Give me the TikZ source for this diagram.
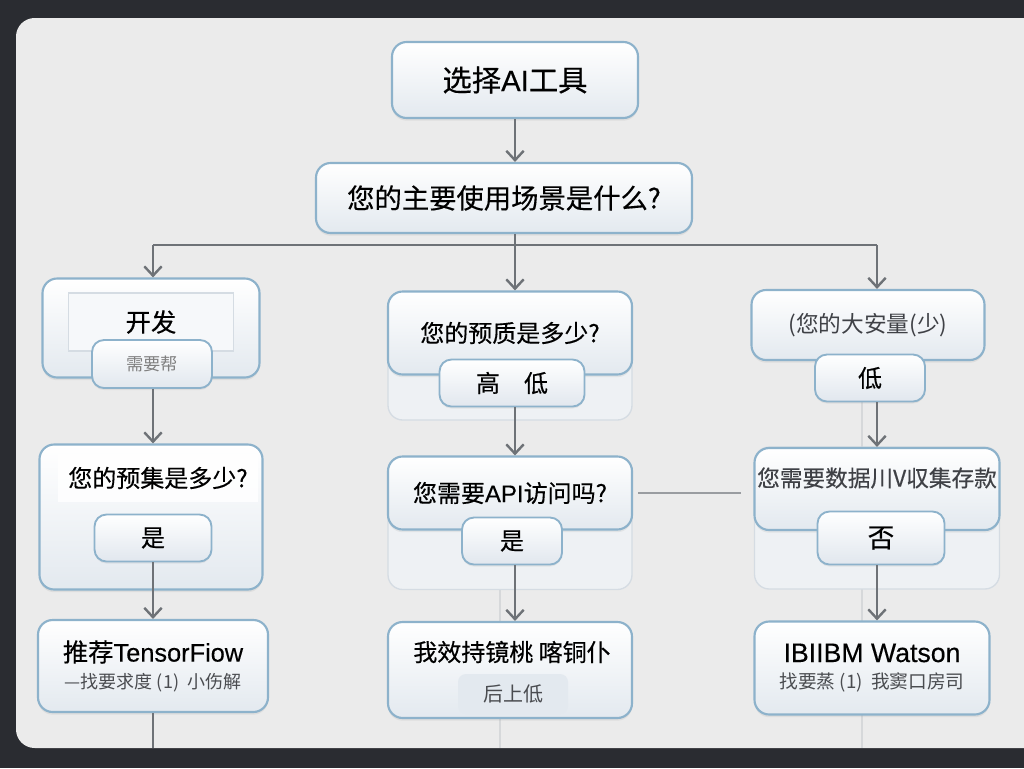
\documentclass[tikz,border=0pt]{standalone}
\usepackage{fontspec}
\newfontfamily\cjk[FakeBold=0.35]{Noto Sans CJK SC}
\newfontfamily\cjkl{Noto Sans CJK SC}
\newfontfamily\latn[FakeBold=0.3]{Liberation Sans}
\usetikzlibrary{arrows.meta,shadows}
\definecolor{darkbg}{HTML}{2A2C31}
\definecolor{panel}{HTML}{EBEBEB}
\definecolor{rim}{HTML}{8DB2CB}
\definecolor{lnk}{HTML}{6E7277}
\definecolor{faint}{HTML}{D6D8DA}
\definecolor{cardlo}{HTML}{E3E9EF}
\definecolor{pilllo}{HTML}{E1E7EE}
\definecolor{backrim}{HTML}{D5DCE3}
\definecolor{backfill}{HTML}{EEF1F4}
\tikzset{
  card/.style={draw=rim, line width=1.6pt, rounded corners=11pt, top color=white, bottom color=cardlo,
    font=\cjk\fontsize{18}{22}\selectfont, text=black, inner sep=0pt,
    drop shadow={opacity=0.12, shadow xshift=0pt, shadow yshift=-2pt}},
  back/.style={draw=backrim, line width=1pt, rounded corners=11pt, fill=backfill, inner sep=0pt},
  pill/.style={draw=rim, line width=1.4pt, rounded corners=9pt, top color=white, bottom color=pilllo,
    font=\cjk\fontsize{18}{22}\selectfont, text=black, inner sep=0pt,
    drop shadow={opacity=0.12, shadow xshift=0pt, shadow yshift=-1.5pt}},
  band/.style={draw=none, fill=white, fill opacity=0.85, text opacity=1, inner sep=0pt,
    font=\cjk\fontsize{18}{22}\selectfont},
  link/.style={draw=lnk, line width=1.8pt, -{Straight Barb[length=7pt,width=13pt,line width=1.8pt]}},
  plain/.style={draw=lnk, line width=1.8pt},
  thin/.style={draw=faint, line width=0.8pt}
}
\begin{document}
\begin{tikzpicture}[x=0.75pt,y=-0.75pt]
\useasboundingbox (0,0) rectangle (1024,768);
\clip (0,0) rectangle (1024,768);
% background
\fill[darkbg] (0,0) rectangle (1024,768);
\fill[panel, rounded corners=14pt] (16,18) rectangle (1060,748);
% faint guide lines
\draw[thin] (500,590) -- (500,748);
\draw[thin] (862,400) -- (862,748);
% background blocks
\node[back, minimum width=183pt, minimum height=96pt] (m1bg) at (510,356) {};
\node[back, minimum width=183pt, minimum height=99.75pt] (m2bg) at (510,523) {};
\node[back, minimum width=183.75pt, minimum height=106.5pt] (r2bg) at (877,518) {};
% top
\node[card, minimum width=184.5pt, minimum height=57pt, font=\cjk\fontsize{22}{26}\selectfont] (top) at (515,80) {选择{\latn AI}工具};
\node[card, minimum width=282pt, minimum height=52.5pt, font=\cjk\fontsize{20.5}{24}\selectfont] (q1) at (504,198) {您的主要使用场景是什么?};
% left column
\node[card, minimum width=162.75pt, minimum height=74.25pt] (l1) at (151,328) {};
\node[draw=backrim, line width=0.8pt, fill=backfill!50!white, minimum width=123.75pt, minimum height=43.5pt, inner sep=0pt, font=\cjk\fontsize{19}{22}\selectfont] (l1t) at (151,322) {开发};
\node[pill, minimum width=90pt, minimum height=36pt, font=\cjkl\fontsize{13}{16}\selectfont, text=gray] (l1p) at (152,364) {需要帮};
\node[card, minimum width=167.25pt, minimum height=108.75pt] (l2) at (151,517) {};
\node[band, minimum width=150pt, minimum height=36pt] (l2t) at (158,478) {您的预集是多少?};
\node[pill, minimum width=87.75pt, minimum height=35.25pt] (l2p) at (153,538) {是};
\node[card, minimum width=172.5pt, minimum height=69pt, align=center] (l3) at (153,666)
  {{\cjk\fontsize{19}{22}\selectfont 推荐}{\latn\fontsize{19}{22}\selectfont TensorFiow}\\[-2pt]{\cjkl\fontsize{13.5}{17}\selectfont\color{darkbg!85} —找要求度 (1)\ \ 小伤解}};
% middle column
\node[card, minimum width=183pt, minimum height=62.25pt] (m1) at (510,333) {您的预质是多少?};
\node[pill, minimum width=108.75pt, minimum height=35.25pt] (m1p) at (512,383) {高\quad 低};
\node[card, minimum width=183pt, minimum height=54.75pt] (m2) at (510,493) {您需要{\latn API}访问吗?};
\node[pill, minimum width=75pt, minimum height=35.25pt] (m2p) at (512,541) {是};
\node[card, minimum width=183pt, minimum height=72pt] (m3) at (510,670) {};
\node[font=\cjk\fontsize{18}{22}\selectfont, inner sep=0pt] (m3t) at (512,652) {我效持镜桃\ 喀铜仆};
\node[draw=none, fill=cardlo, rounded corners=6pt, minimum width=82.5pt, minimum height=30pt, inner sep=0pt, font=\cjkl\fontsize{15}{18}\selectfont, text=darkbg!85] (m3p) at (513,694) {后上低};
% right column
\node[card, minimum width=174.75pt, minimum height=52.5pt, font=\cjkl\fontsize{17}{20}\selectfont, text=darkbg!90] (r1) at (868,325) {(您的大安量(少)};
\node[pill, minimum width=82.5pt, minimum height=35.25pt] (r1p) at (870,378) {低};
\node[card, minimum width=183.75pt, minimum height=61.5pt] (r2) at (877,489) {};
\node[font=\cjk\fontsize{17}{20}\selectfont, inner sep=0pt, text=darkbg!90] (r2t) at (877,478) {您需要数据川V収集存款};
\node[pill, minimum width=95.25pt, minimum height=39.75pt, font=\cjk\fontsize{20}{24}\selectfont] (r2p) at (881,538) {否};
\node[card, minimum width=176.25pt, minimum height=69.75pt, align=center] (r3) at (872,668)
  {{\latn\fontsize{20}{23}\selectfont IBIIBM Watson}\\[-2pt]{\cjkl\fontsize{14}{17}\selectfont\color{darkbg!85} 找要蒸 (1)\ \ 我窦口房司}};
% connectors
\coordinate (jm) at (515,245);
\coordinate (jl) at (153,245);
\coordinate (jr) at (877,245);
\coordinate (lend) at (153,748);
\draw[link] (top.south) -- (top.south |- q1.north);
\draw[plain] (top.south |- q1.south) -- (jm);
\draw[plain] (jl) -- (jr);
\draw[link] (jm) -- (jm |- m1.north);
\draw[link] (jl) -- (jl |- l1.north);
\draw[link] (jr) -- (jr |- r1.north);
\draw[link] (l1p.south -| jl) -- (jl |- l2.north);
\draw[link] (l2p.south -| jl) -- (jl |- l3.north);
\draw[plain] (l3.south -| jl) -- (lend);
\draw[link] (m1p.south -| jm) -- (jm |- m2.north);
\draw[link] (m2p.south -| jm) -- (jm |- m3.north);
\draw[plain, draw=lnk!70, line width=1.2pt] ([xshift=4pt]m2.east) -- ([xshift=-10pt]r2bg.west |- m2.east);
\draw[link] (r1p.south -| jr) -- (jr |- r2.north);
\draw[link] (r2p.south -| jr) -- (jr |- r3.north);
\end{tikzpicture}
\end{document}
